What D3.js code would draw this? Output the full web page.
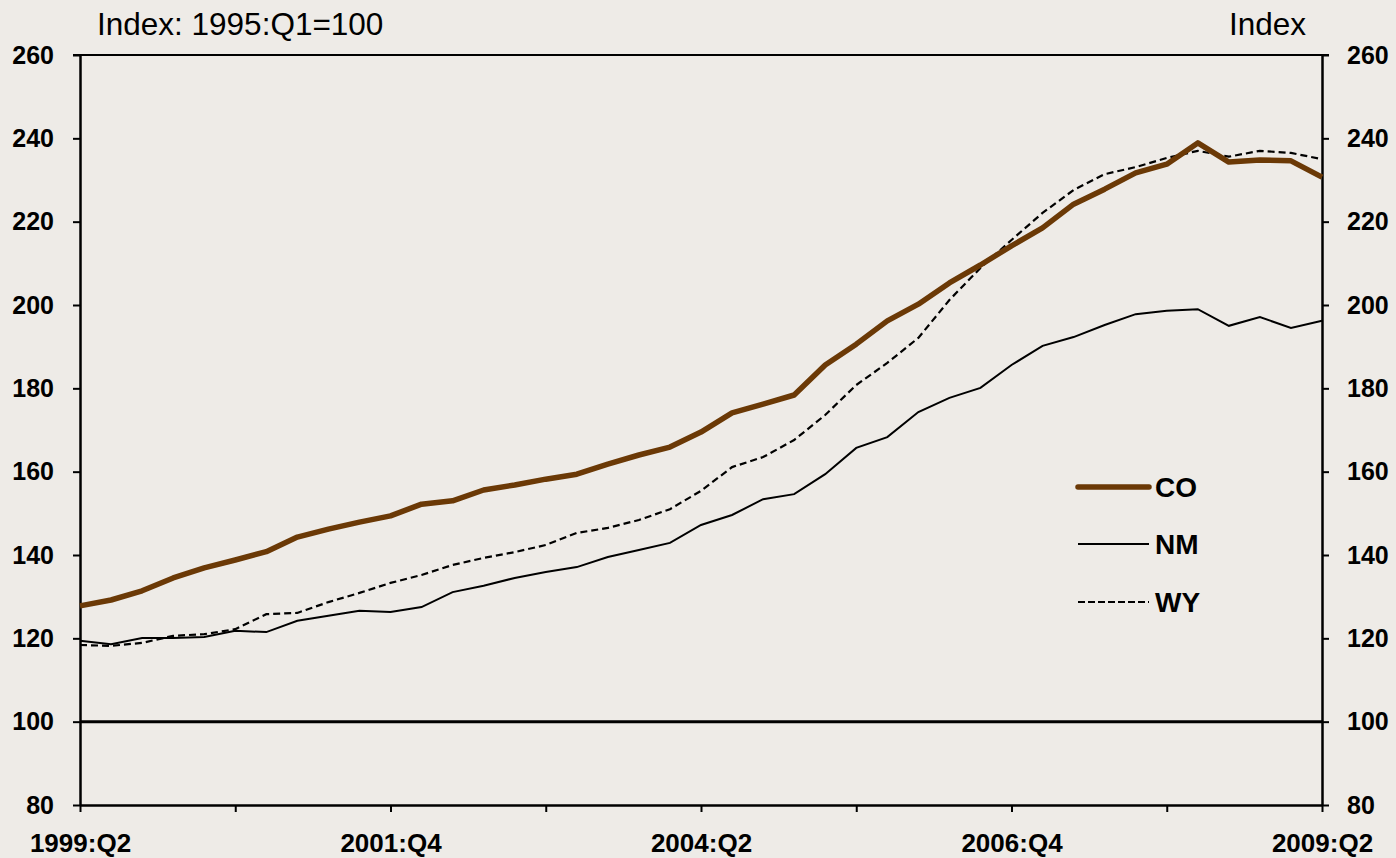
<!DOCTYPE html>
<html lang="en">
<head>
<meta charset="utf-8">
<title>CO NM WY house price index</title>
<script src="https://cdn.jsdelivr.net/npm/d3@7"></script>
<style>
  body { margin: 0; background: #eeebe7; }
  svg { display: block; font-family: Arial, "Liberation Sans", sans-serif; }
  .tick text { font-size: 25px; font-weight: bold; fill: #000; }
  .xaxis .tick text { font-size: 26px; }
  .axis path, .axis line { stroke: #000; }
  .unit { font-size: 31.5px; fill: #000; }
  .leg { font-size: 28px; font-weight: bold; fill: #000; }
</style>
</head>
<body>
<svg id="chart" width="1396" height="858"></svg>
<script>
var quarters = [
  "1999:Q2","1999:Q3","1999:Q4","2000:Q1","2000:Q2","2000:Q3","2000:Q4",
  "2001:Q1","2001:Q2","2001:Q3","2001:Q4","2002:Q1","2002:Q2","2002:Q3","2002:Q4",
  "2003:Q1","2003:Q2","2003:Q3","2003:Q4","2004:Q1","2004:Q2","2004:Q3","2004:Q4",
  "2005:Q1","2005:Q2","2005:Q3","2005:Q4","2006:Q1","2006:Q2","2006:Q3","2006:Q4",
  "2007:Q1","2007:Q2","2007:Q3","2007:Q4","2008:Q1","2008:Q2","2008:Q3","2008:Q4",
  "2009:Q1","2009:Q2"
];
var co = [127.8,129.2,131.4,134.5,136.9,138.8,140.8,144.3,146.2,147.9,149.4,
  152.2,153.0,155.6,156.8,158.2,159.4,161.8,164.0,165.9,169.5,174.1,176.2,178.4,
  185.6,190.6,196.2,200.2,205.3,209.6,214.2,218.5,224.2,227.8,231.7,233.8,238.9,
  234.3,234.8,234.6,230.7];
var nm = [119.4,118.6,120.1,120.1,120.3,121.8,121.5,124.2,125.4,126.6,126.3,
  127.5,131.1,132.6,134.5,135.9,137.1,139.5,141.2,142.9,147.2,149.6,153.4,154.6,
  159.4,165.7,168.3,174.3,177.7,180.1,185.6,190.2,192.3,195.2,197.8,198.6,199.0,
  195.0,197.1,194.5,196.2];
var wy = [118.4,118.2,118.9,120.6,121.0,122.2,125.8,126.1,128.7,130.9,133.3,
  135.2,137.6,139.3,140.7,142.4,145.3,146.5,148.4,151.0,155.4,161.1,163.5,167.6,
  173.6,180.8,186.1,192.1,201.2,208.9,215.6,222.1,227.6,231.4,233.1,235.3,237.0,
  235.6,237.0,236.5,235.0];
var yTicks = [80,100,120,140,160,180,200,220,240,260];
var xTicks = ["1999:Q2","2000:Q3","2001:Q4","2003:Q1","2004:Q2","2005:Q3","2006:Q4","2008:Q1","2009:Q2"];
var xLabels = ["1999:Q2","2001:Q4","2004:Q2","2006:Q4","2009:Q2"];

var svg = d3.select("#chart");
var plotLeft = 80, plotRight = 1322, plotTop = 55, plotBottom = 805;

var x = d3.scalePoint().domain(quarters).range([plotLeft, plotRight]);
var y = d3.scaleLinear().domain([80, 260]).range([plotBottom, plotTop]);

// top frame line
svg.append("line")
  .attr("x1", plotLeft - 7).attr("x2", plotRight + 7)
  .attr("y1", y(260)).attr("y2", y(260))
  .attr("stroke", "#000").attr("stroke-width", 2);

// 100 reference line
svg.append("line")
  .attr("x1", plotLeft).attr("x2", plotRight)
  .attr("y1", y(100)).attr("y2", y(100))
  .attr("stroke", "#000").attr("stroke-width", 3);

var yLeft = d3.axisLeft(y).tickValues(yTicks).tickSize(7).tickPadding(19).tickSizeOuter(0);
var yRight = d3.axisRight(y).tickValues(yTicks).tickSize(7).tickPadding(18).tickSizeOuter(0);
var xAxis = d3.axisBottom(x).tickValues(xTicks).tickSize(7).tickPadding(22).tickSizeOuter(0)
  .tickFormat(function(d){ return xLabels.indexOf(d) >= 0 ? d : ""; });

svg.append("g").attr("class", "axis")
  .attr("transform", "translate(" + plotLeft + ",0)").call(yLeft);
svg.append("g").attr("class", "axis")
  .attr("transform", "translate(" + plotRight + ",0)").call(yRight);
svg.append("g").attr("class", "axis xaxis")
  .attr("transform", "translate(0," + plotBottom + ")").call(xAxis);

svg.selectAll(".axis path").attr("stroke-width", 2.5);
svg.selectAll(".axis .tick line").attr("stroke-width", 2);
svg.selectAll(".axis").attr("font-family", null).attr("font-size", null);

// series
var line = d3.line()
  .x(function(d, i){ return x(quarters[i]); })
  .y(function(d){ return y(d); });

svg.append("path").datum(wy)
  .attr("d", line).attr("fill", "none")
  .attr("stroke", "#000").attr("stroke-width", 2.2)
  .attr("stroke-dasharray", "7,4");
svg.append("path").datum(nm)
  .attr("d", line).attr("fill", "none")
  .attr("stroke", "#000").attr("stroke-width", 2);
svg.append("path").datum(co)
  .attr("d", line).attr("fill", "none")
  .attr("stroke", "#6b3906").attr("stroke-width", 5.5)
  .attr("stroke-linejoin", "round");

// unit labels
svg.append("text").attr("class", "unit").attr("x", 97).attr("y", 35).text("Index: 1995:Q1=100");
svg.append("text").attr("class", "unit").attr("x", 1306).attr("y", 35)
  .attr("text-anchor", "end").text("Index");

// legend
var legend = [
  {name: "CO", color: "#6b3906", width: 5.5, dash: null, y: 487},
  {name: "NM", color: "#000", width: 2, dash: null, y: 544},
  {name: "WY", color: "#000", width: 2.2, dash: "7,3", y: 602}
];
var lg = svg.selectAll(".legitem").data(legend).enter().append("g");
lg.append("line")
  .attr("x1", 1078).attr("x2", 1149)
  .attr("y1", function(d){ return d.y; }).attr("y2", function(d){ return d.y; })
  .attr("stroke", function(d){ return d.color; })
  .attr("stroke-width", function(d){ return d.width; })
  .attr("stroke-linecap", function(d){ return d.name === "CO" ? "round" : "butt"; })
  .attr("stroke-dasharray", function(d){ return d.dash; });
lg.append("text").attr("class", "leg")
  .attr("x", 1155).attr("y", function(d){ return d.y; })
  .attr("dy", "0.36em")
  .text(function(d){ return d.name; });
</script>
</body>
</html>
